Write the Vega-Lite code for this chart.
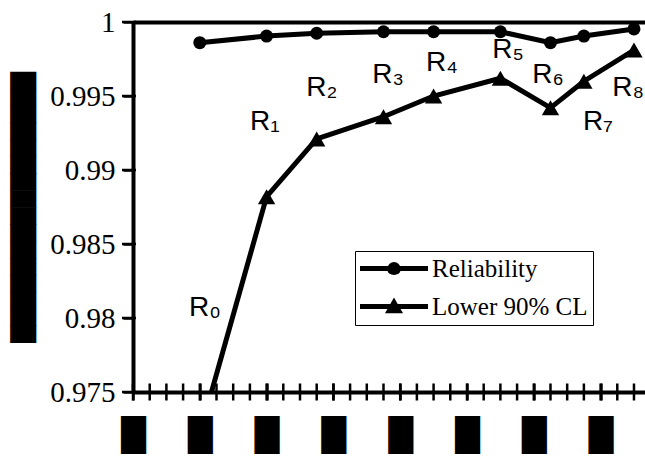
{
  "$schema": "https://vega.github.io/schema/vega-lite/v6.json",
  "autosize": {"type": "none"},
  "padding": {"left": 133, "top": 22, "right": 0, "bottom": 64},
  "width": 512,
  "height": 370,
  "background": "white",
  "config": {
    "view": {"stroke": null},
    "font": "Liberation Serif"
  },
  "resolve": {"scale": {"shape": "independent"}, "legend": {"shape": "independent"}},
  "datasets": {
    "series": [
      {"t": 4, "series": "Reliability", "value": 0.9986},
      {"t": 8, "series": "Reliability", "value": 0.99905},
      {"t": 11, "series": "Reliability", "value": 0.99924},
      {"t": 15, "series": "Reliability", "value": 0.99934},
      {"t": 18, "series": "Reliability", "value": 0.99934},
      {"t": 22, "series": "Reliability", "value": 0.99934},
      {"t": 25, "series": "Reliability", "value": 0.9986},
      {"t": 27, "series": "Reliability", "value": 0.99905},
      {"t": 30, "series": "Reliability", "value": 0.99953},
      {"t": 4, "series": "Lower 90% CL", "value": 0.9722},
      {"t": 8, "series": "Lower 90% CL", "value": 0.9882},
      {"t": 11, "series": "Lower 90% CL", "value": 0.9921},
      {"t": 15, "series": "Lower 90% CL", "value": 0.9936},
      {"t": 18, "series": "Lower 90% CL", "value": 0.995},
      {"t": 22, "series": "Lower 90% CL", "value": 0.9962},
      {"t": 25, "series": "Lower 90% CL", "value": 0.9942},
      {"t": 27, "series": "Lower 90% CL", "value": 0.996},
      {"t": 30, "series": "Lower 90% CL", "value": 0.9981}
    ],
    "labels": [
      {"t": 4.31, "value": 0.98068, "label": "R₀"},
      {"t": 7.9, "value": 0.99324, "label": "R₁"},
      {"t": 11.3, "value": 0.99554, "label": "R₂"},
      {"t": 15.27, "value": 0.99642, "label": "R₃"},
      {"t": 18.5, "value": 0.99723, "label": "R₄"},
      {"t": 22.46, "value": 0.99811, "label": "R₅"},
      {"t": 24.85, "value": 0.99642, "label": "R₆"},
      {"t": 27.84, "value": 0.99324, "label": "R₇"},
      {"t": 29.65, "value": 0.99554, "label": "R₈"}
    ],
    "xticks": [
      {"t": 0}, {"t": 1}, {"t": 2}, {"t": 3}, {"t": 4}, {"t": 5}, {"t": 6}, {"t": 7},
      {"t": 8}, {"t": 9}, {"t": 10}, {"t": 11}, {"t": 12}, {"t": 13}, {"t": 14}, {"t": 15},
      {"t": 16}, {"t": 17}, {"t": 18}, {"t": 19}, {"t": 20}, {"t": 21}, {"t": 22}, {"t": 23},
      {"t": 24}, {"t": 25}, {"t": 26}, {"t": 27}, {"t": 28}, {"t": 29}, {"t": 30}
    ],
    "yticks": [
      {"value": 0.975}, {"value": 0.98}, {"value": 0.985}, {"value": 0.99}, {"value": 0.995}, {"value": 1}
    ]
  },
  "layer": [
    {
      "data": {"name": "series"},
      "mark": {"type": "line", "stroke": "black", "strokeWidth": 5, "clip": true},
      "encoding": {
        "x": {
          "field": "t", "type": "quantitative",
          "scale": {"domain": [0, 30.66], "nice": false, "zero": false},
          "axis": {
            "values": [0,1,2,3,4,5,6,7,8,9,10,11,12,13,14,15,16,17,18,19,20,21,22,23,24,25,26,27,28,29,30],
            "domain": false, "grid": false, "title": null,
            "offset": -9, "tickSize": 17, "tickWidth": 2.5, "tickColor": "#000000",
            "labelExpr": "datum.value % 4 === 0 ? '█' : ''",
            "labelFont": "DejaVu Sans", "labelFontSize": 32, "labelColor": "black",
            "labelPadding": 20, "labelBaseline": "top", "labelAngle": 0,
            "labelOverlap": false, "labelFlush": false
          }
        },
        "y": {
          "field": "value", "type": "quantitative",
          "scale": {"domain": [0.975, 1], "nice": false, "zero": false},
          "axis": {
            "values": [0.975, 0.98, 0.985, 0.99, 0.995, 1],
            "format": ".3~f",
            "domain": true, "domainWidth": 4, "domainColor": "black",
            "tickSize": 10, "tickWidth": 2.5, "tickColor": "#000000",
            "labelFont": "Liberation Serif", "labelFontSize": 29, "labelColor": "black",
            "labelPadding": 8, "labelFlush": false, "labelOverlap": false,
            "grid": true, "gridColor": "black", "gridWidth": 4,
            "gridOpacity": {"condition": {"test": "datum.value > 0.9999 || datum.value < 0.9751", "value": 1}, "value": 0},
            "title": "████████████████",
            "titleFont": "DejaVu Sans", "titleFontSize": 22, "titleColor": "black",
            "titlePadding": 14
          }
        },
        "detail": {"field": "series", "type": "nominal"}
      }
    },
    {
      "data": {"name": "xticks"},
      "mark": {"type": "tick", "orient": "vertical", "size": 17, "thickness": 2.5, "color": "black", "opacity": 1},
      "encoding": {
        "x": {"field": "t", "type": "quantitative"},
        "y": {"datum": 0.975, "type": "quantitative"}
      }
    },
    {
      "data": {"name": "yticks"},
      "mark": {"type": "tick", "orient": "horizontal", "size": 14, "thickness": 2.5, "color": "black", "opacity": 1, "xOffset": -4},
      "encoding": {
        "x": {"datum": 0, "type": "quantitative"},
        "y": {"field": "value", "type": "quantitative"}
      }
    },
    {
      "data": {"name": "series"},
      "mark": {"type": "point", "filled": true, "fill": "black", "opacity": 1, "clip": true},
      "encoding": {
        "x": {"field": "t", "type": "quantitative"},
        "y": {"field": "value", "type": "quantitative"},
        "shape": {
          "field": "series", "type": "nominal",
          "scale": {"domain": ["Reliability", "Lower 90% CL"], "range": ["circle", "triangle-up"]},
          "legend": null
        },
        "size": {"condition": {"test": "datum.series === 'Reliability'", "value": 169}, "value": 300}
      }
    },
    {
      "data": {"name": "series"},
      "mark": {"type": "point", "filled": true, "fill": "black", "opacity": 0, "clip": true},
      "encoding": {
        "x": {"field": "t", "type": "quantitative"},
        "y": {"field": "value", "type": "quantitative"},
        "shape": {
          "field": "series", "type": "nominal",
          "scale": {
            "domain": ["Reliability", "Lower 90% CL"],
            "range": [
              "M-1,-0.074L1,-0.074L1,0.074L0.19,0.074L0.17,0.12L0.13,0.155L0.07,0.18L0,0.19L-0.07,0.18L-0.13,0.155L-0.17,0.12L-0.19,0.074L-1,0.074Z M-0.19,0L-0.17,-0.09L-0.13,-0.14L-0.07,-0.18L0,-0.19L0.07,-0.18L0.13,-0.14L0.17,-0.09L0.19,0L0.19,0.05L-0.19,0.05Z",
              "M-1,-0.074L1,-0.074L1,0.074L-1,0.074Z M0,-0.265L0.265,0.2L-0.265,0.2Z"
            ]
          },
          "legend": {
            "title": null, "orient": "none", "legendX": 222, "legendY": 229,
            "strokeColor": "black", "fillColor": "white",
            "padding": 5, "rowPadding": 12, "clipHeight": 25,
            "symbolSize": 4624, "symbolStrokeWidth": 0, "symbolStrokeColor": "transparent",
            "symbolFillColor": "black", "symbolOpacity": 1,
            "labelFont": "Liberation Serif", "labelFontSize": 25, "labelColor": "black",
            "labelOffset": 4, "labelLimit": 300,
            "encode": {
              "legend": {"update": {"strokeWidth": {"value": 1.5}}},
              "symbols": {
                "update": {
                  "fill": {"value": "black"},
                  "fillOpacity": {"value": 1},
                  "stroke": {"value": "transparent"},
                  "strokeWidth": {"value": 0},
                  "opacity": {"value": 1}
                }
              }
            }
          }
        }
      }
    },
    {
      "data": {"name": "labels"},
      "mark": {"type": "text", "font": "Liberation Sans", "fontSize": 28, "color": "black", "align": "center", "baseline": "middle"},
      "encoding": {
        "x": {"field": "t", "type": "quantitative"},
        "y": {"field": "value", "type": "quantitative"},
        "text": {"field": "label", "type": "nominal"}
      }
    }
  ]
}
